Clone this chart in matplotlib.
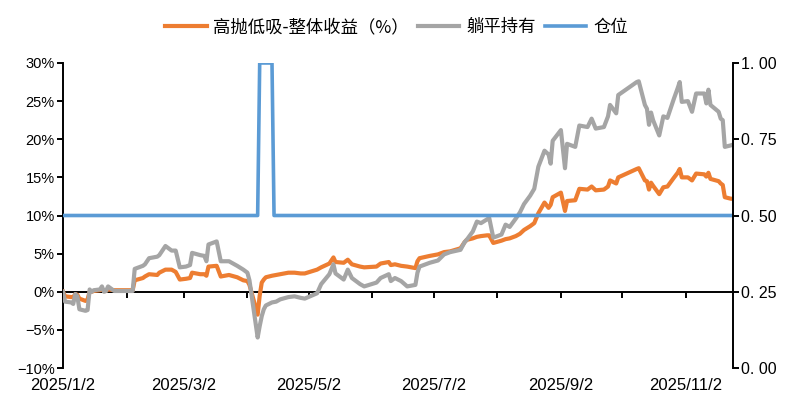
import numpy as np
import pandas as pd
import matplotlib
matplotlib.use("Agg")
import matplotlib.pyplot as plt
import matplotlib.dates as mdates
from matplotlib.ticker import FixedLocator, FuncFormatter

plt.rcParams['font.family'] = ['Liberation Sans', 'Noto Sans CJK SC', 'DejaVu Sans']

## values (returns in %)
dates = ["2025-01-02", "2025-01-03", "2025-01-06", "2025-01-07", "2025-01-08", "2025-01-09",
         "2025-01-10", "2025-01-13", "2025-01-14", "2025-01-15", "2025-01-16", "2025-01-17",
         "2025-01-20", "2025-01-21", "2025-01-22", "2025-01-23", "2025-01-24", "2025-01-27",
         "2025-02-05", "2025-02-06", "2025-02-10", "2025-02-11", "2025-02-13", "2025-02-17",
         "2025-02-18", "2025-02-21", "2025-02-24", "2025-02-26", "2025-02-28", "2025-03-03",
         "2025-03-05", "2025-03-06", "2025-03-10", "2025-03-12", "2025-03-13", "2025-03-14",
         "2025-03-18", "2025-03-20", "2025-03-24", "2025-03-28", "2025-03-31", "2025-04-02",
         "2025-04-03", "2025-04-07", "2025-04-08", "2025-04-09", "2025-04-10", "2025-04-11",
         "2025-04-14", "2025-04-16", "2025-04-18", "2025-04-22", "2025-04-25", "2025-04-28",
         "2025-04-30", "2025-05-06", "2025-05-08", "2025-05-12", "2025-05-14", "2025-05-15",
         "2025-05-19", "2025-05-21", "2025-05-23", "2025-05-27", "2025-05-29", "2025-06-04",
         "2025-06-06", "2025-06-10", "2025-06-11", "2025-06-13", "2025-06-16", "2025-06-19",
         "2025-06-23", "2025-06-24", "2025-06-25", "2025-06-30", "2025-07-04", "2025-07-07",
         "2025-07-10", "2025-07-15", "2025-07-17", "2025-07-18", "2025-07-21", "2025-07-23",
         "2025-07-25", "2025-07-28", "2025-07-29", "2025-07-31", "2025-08-04", "2025-08-06",
         "2025-08-08", "2025-08-11", "2025-08-13", "2025-08-15", "2025-08-18", "2025-08-20",
         "2025-08-22", "2025-08-25", "2025-08-27", "2025-08-28", "2025-08-29", "2025-09-02",
         "2025-09-04", "2025-09-05", "2025-09-09", "2025-09-11", "2025-09-15", "2025-09-17",
         "2025-09-19", "2025-09-23", "2025-09-25", "2025-09-26", "2025-09-29", "2025-09-30",
         "2025-10-09", "2025-10-10", "2025-10-13", "2025-10-14", "2025-10-15", "2025-10-16",
         "2025-10-17", "2025-10-20", "2025-10-22", "2025-10-24", "2025-10-27", "2025-10-29",
         "2025-10-30", "2025-10-31", "2025-11-03", "2025-11-05", "2025-11-07", "2025-11-11",
         "2025-11-12", "2025-11-13", "2025-11-14", "2025-11-18", "2025-11-19", "2025-11-20",
         "2025-11-21", "2025-11-24", "2025-11-25"]

strategy = [0.0, -0.6, -0.7, -0.7, -0.3, -0.4,
            -0.9, -1.2, -1.0, 0.0, 0.0, 0.1,
            0.2, 0.3, 0.1, 0.1, 0.3, 0.2,
            0.2, 1.5, 1.8, 2.0, 2.3, 2.2,
            2.5, 2.9, 2.9, 2.6, 1.6, 1.7,
            1.8, 2.5, 2.3, 2.3, 2.1, 3.3,
            3.4, 2.0, 2.2, 1.9, 1.5, 1.4,
            0.9, -3.0, -0.5, 1.2, 1.6, 1.9,
            2.1, 2.2, 2.3, 2.5, 2.5, 2.4,
            2.4, 2.9, 3.2, 3.7, 4.5, 3.9,
            3.8, 4.2, 3.6, 3.3, 3.2, 3.3,
            3.7, 3.9, 3.5, 3.6, 3.4, 3.3,
            3.1, 4.0, 4.4, 4.7, 4.9, 5.2,
            5.3, 5.7, 6.5, 6.8, 7.0, 7.2,
            7.3, 7.4, 7.4, 6.4, 6.7, 6.9,
            7.0, 7.3, 7.6, 8.1, 8.6, 9.0,
            10.3, 11.7, 11.0, 11.4, 12.4, 13.0,
            10.6, 11.9, 12.0, 13.5, 13.4, 13.8,
            13.3, 13.4, 13.8, 14.6, 14.2, 15.0,
            16.1, 16.2, 14.6, 14.5, 13.4, 14.3,
            13.9, 12.8, 13.7, 13.8, 14.9, 15.6,
            16.1, 15.0, 15.0, 14.6, 15.5, 15.4,
            15.1, 15.6, 14.8, 14.5, 14.2, 14.0,
            12.4, 12.2, 12.2]

hold = [0.0, -1.3, -1.4, -1.6, -0.3, -0.6,
        -2.3, -2.5, -2.4, 0.3, 0.0, 0.2,
        0.3, 0.7, 0.0, 0.1, 0.7, 0.1,
        0.1, 3.0, 3.4, 3.6, 4.4, 4.6,
        4.8, 6.0, 5.4, 5.4, 3.2, 3.3,
        3.5, 5.1, 4.8, 4.7, 4.0, 6.2,
        6.6, 4.0, 4.0, 3.4, 2.9, 2.5,
        1.5, -6.0, -4.5, -3.2, -2.3, -1.8,
        -1.4, -1.3, -1.0, -0.7, -0.6, -0.8,
        -0.9, -0.2, 1.0, 2.3, 3.6, 2.4,
        1.6, 2.9, 1.8, 1.0, 0.7, 1.2,
        1.8, 2.3, 1.4, 1.8, 1.4, 0.7,
        0.9, 2.5, 3.3, 3.8, 4.1, 4.9,
        5.2, 5.5, 6.5, 6.8, 7.9, 9.2,
        9.0, 9.5, 9.7, 7.1, 7.5, 8.8,
        8.5, 9.6, 10.4, 11.5, 12.6, 13.5,
        16.4, 18.5, 18.0, 16.8, 19.8, 21.2,
        16.2, 19.4, 19.0, 21.8, 21.6, 22.7,
        21.4, 21.6, 23.0, 24.5, 23.4, 25.8,
        27.5, 27.6, 24.5, 24.0, 21.9, 23.5,
        22.5, 20.5, 23.0, 22.8, 25.2, 26.7,
        27.5, 24.9, 25.0, 23.6, 26.0, 26.0,
        24.7, 26.5, 24.5, 23.6, 22.7, 22.5,
        19.0, 19.2, 19.3]

pos_dates = ["2025-01-02", "2025-04-07", "2025-04-08", "2025-04-14", "2025-04-15", "2025-11-25"]
position = [0.5, 0.5, 1.0, 1.0, 0.5, 0.5]

labels = ["高抛低吸-整体收益（%）", "躺平持有", "仓位"]

x = pd.to_datetime(dates)
xp = pd.to_datetime(pos_dates)

fig = plt.figure(figsize=(7.96, 4.17), dpi=100)
ax = fig.add_axes([63/796, 49/417, 670/796, 305/417])
ax2 = ax.twinx()

l1, = ax.plot(x, strategy, color="#ED7D31", lw=3.0, label=labels[0], zorder=3)
l2, = ax.plot(x, hold, color="#A5A5A5", lw=3.0, label=labels[1], zorder=4)
l3, = ax2.plot(xp, position, color="#5B9BD5", lw=2.6, label=labels[2])

## left axis
ax.set_ylim(-10, 30)
ax.yaxis.set_major_locator(FixedLocator(np.arange(-10, 31, 5)))
ax.yaxis.set_major_formatter(FuncFormatter(lambda v, p: f"{int(v)}%".replace("-", "−")))
ax.set_xlim(pd.Timestamp("2025-01-02"), pd.Timestamp("2025-11-25"))
for s in ["top", "right", "bottom"]:
    ax.spines[s].set_visible(False)
ax.spines["left"].set_linewidth(1.4)
ax.tick_params(axis="y", direction="out", length=4, width=1.4, labelsize=10.5, pad=2)

## dates at the bottom, label every 2 months
ax.xaxis.set_major_locator(mdates.MonthLocator(bymonth=[1, 3, 5, 7, 9, 11], bymonthday=2))
ax.xaxis.set_major_formatter(FuncFormatter(
    lambda v, p: "{d.year}/{d.month}/{d.day}".format(d=mdates.num2date(v))))
ax.tick_params(axis="x", length=0, labelsize=12, pad=7)

## axis line through zero with monthly ticks
zero_ax = ax.secondary_xaxis(0.25)
zero_ax.xaxis.set_major_locator(mdates.MonthLocator(bymonthday=2))
zero_ax.tick_params(axis="x", direction="out", length=4, width=1.4, labelbottom=False)
zero_ax.spines["bottom"].set_linewidth(1.4)

## right axis
ax2.set_ylim(0, 1)
ax2.yaxis.set_major_locator(FixedLocator([0, 0.25, 0.5, 0.75, 1.0]))
ax2.yaxis.set_major_formatter(FuncFormatter(lambda v, p: f"{v:.2f}".replace(".", ". ")))
for s in ["top", "left", "bottom"]:
    ax2.spines[s].set_visible(False)
ax2.spines["right"].set_linewidth(1.4)
ax2.tick_params(axis="y", direction="out", length=4, width=1.4, labelsize=11.5, pad=2)

fig.legend(handles=[l1, l2, l3], loc="center", bbox_to_anchor=(0.498, 1 - 27/417),
           ncol=3, frameon=False, handlelength=2.4, handletextpad=0.4, columnspacing=0.5,
           prop={"family": ["Noto Sans CJK SC", "DejaVu Sans"], "size": 12.5})

fig.savefig("out.png", dpi=100)
